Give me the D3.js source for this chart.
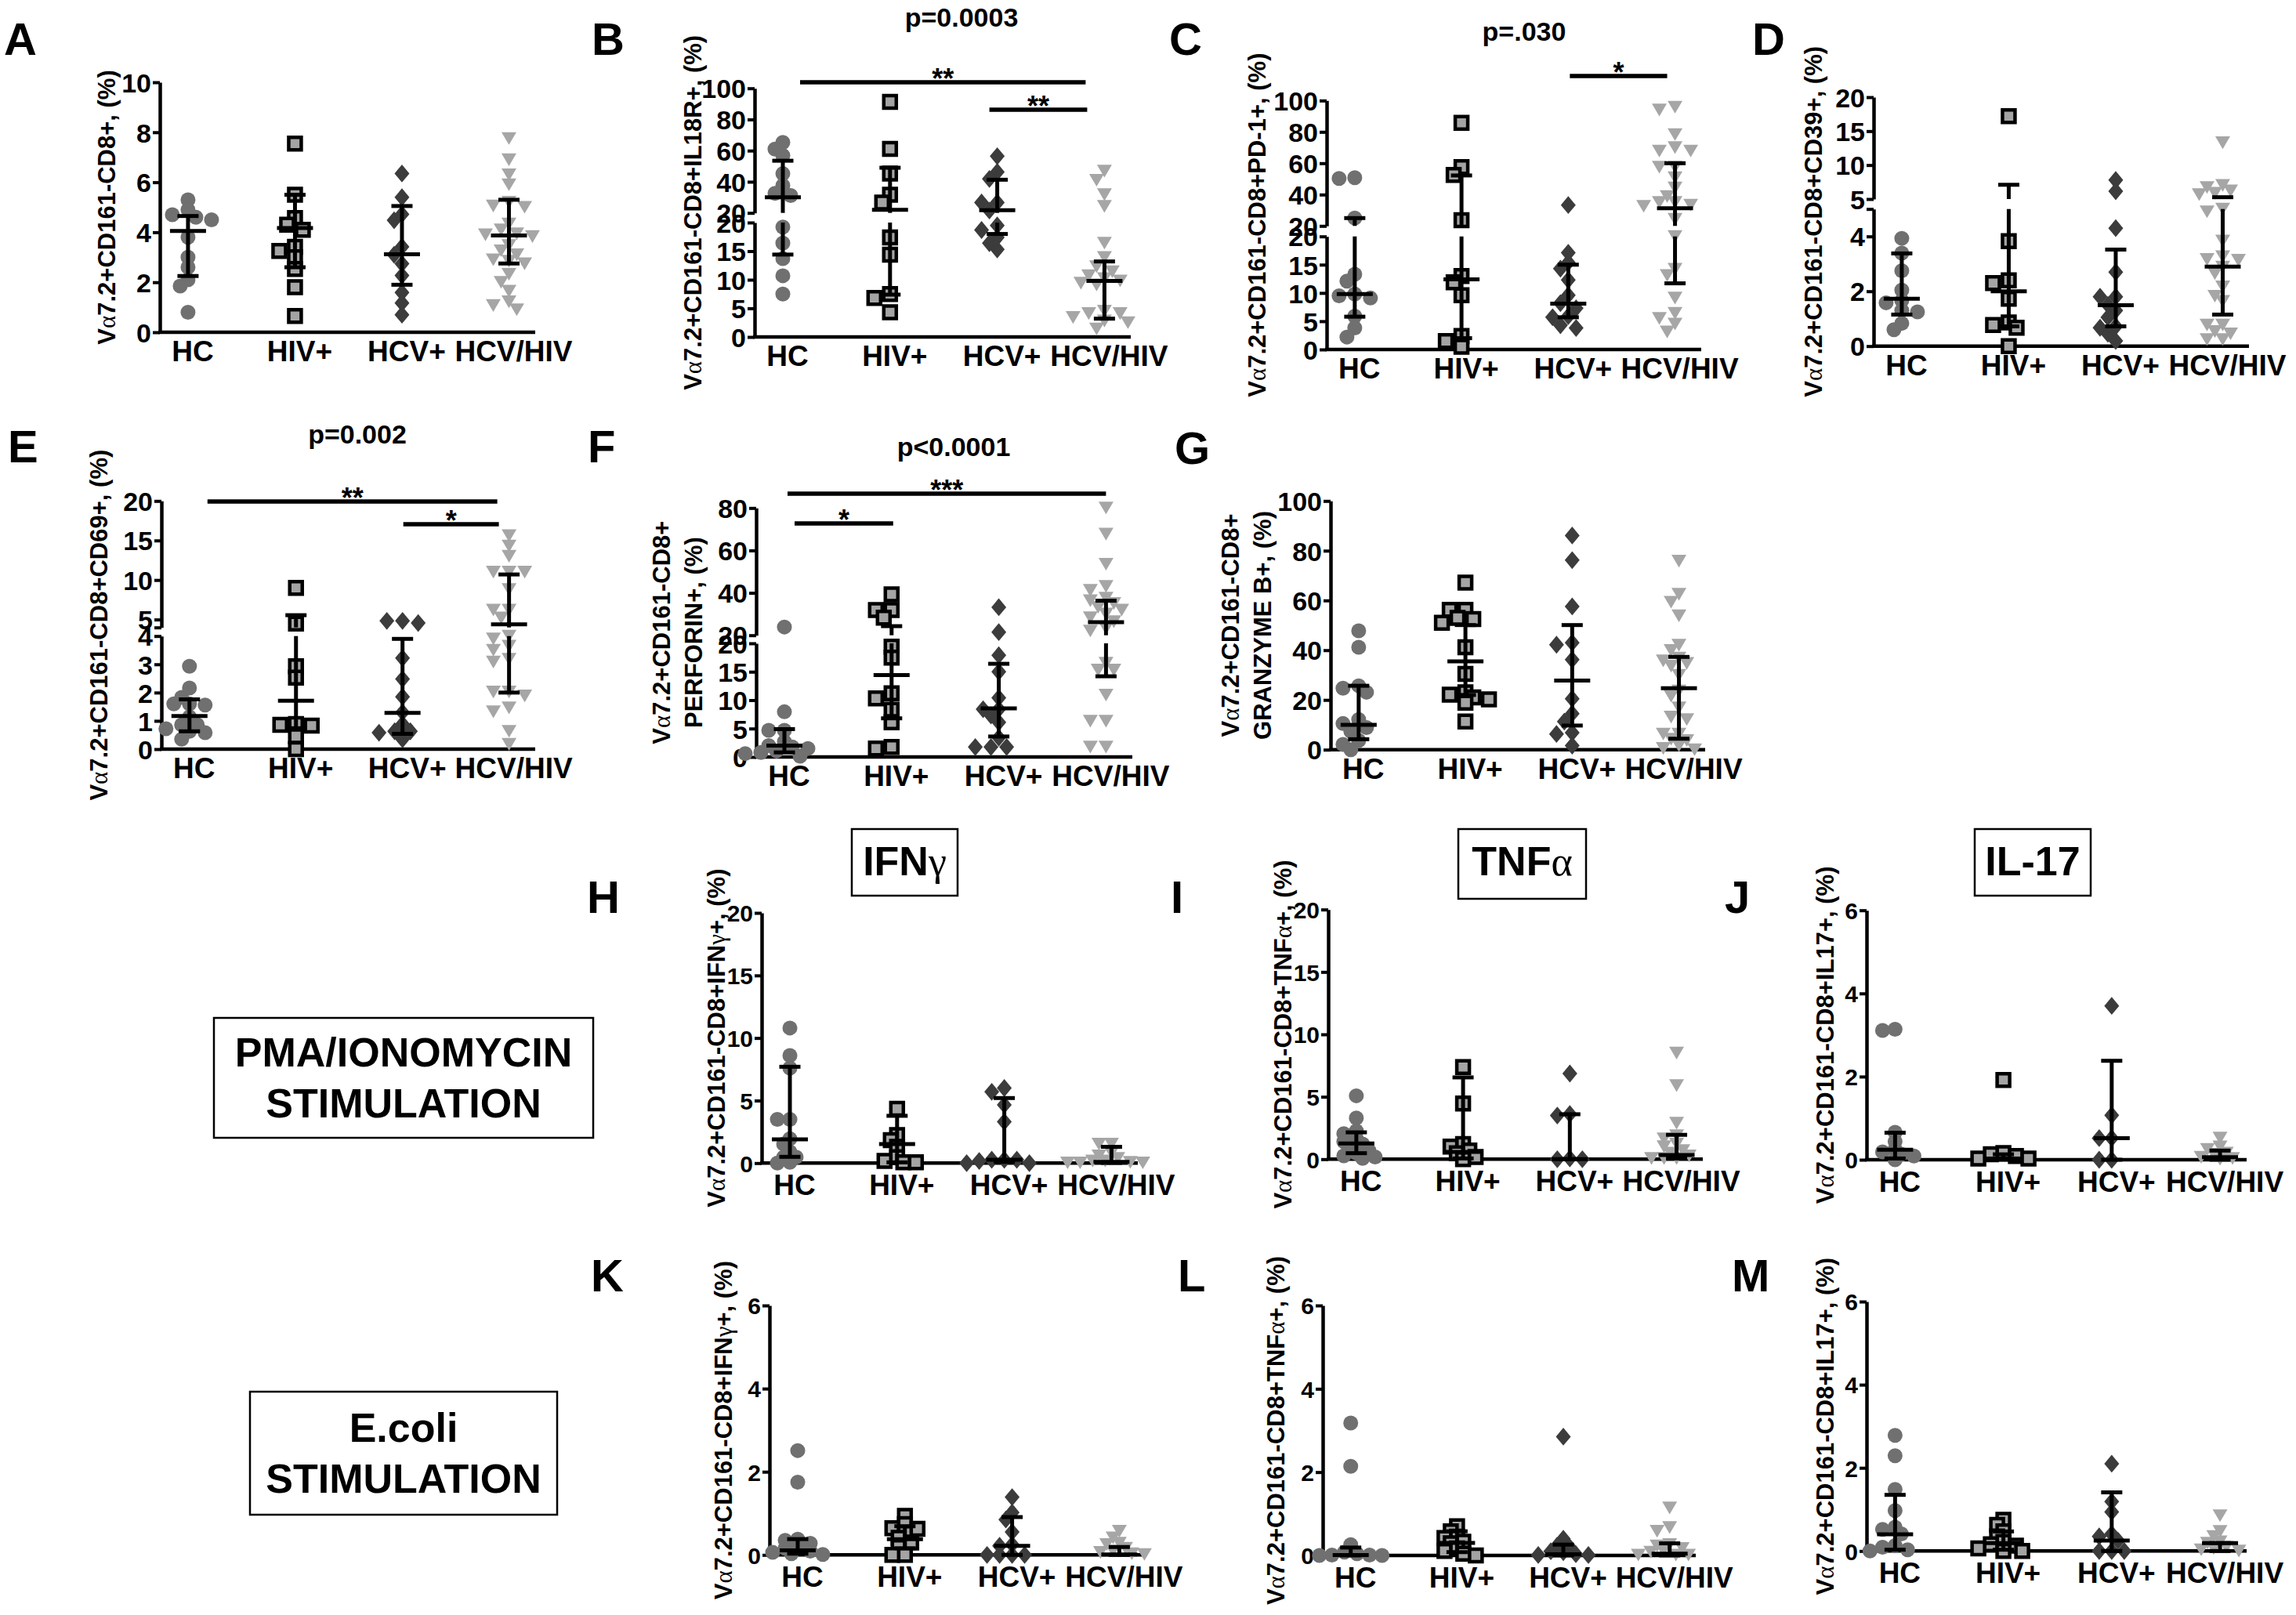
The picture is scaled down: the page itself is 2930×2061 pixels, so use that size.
<!DOCTYPE html>
<html>
<head>
<meta charset="utf-8">
<script src="https://cdn.jsdelivr.net/npm/d3@7"></script>
<style>
  html, body { margin: 0; padding: 0; background: #fff; }
  svg { display: block; }
  text { font-family: "Liberation Sans", Arial, sans-serif; font-weight: bold; fill: #000; }
</style>
</head>
<body>
<svg id="fig" width="2930" height="2061"></svg>
<script>
const groups = ["HC", "HIV+", "HCV+", "HCV/HIV"];

// values, one list per group: HC, HIV+, HCV+, HCV/HIV
// stats are [median, Q1, Q3]
const valsA = [
  [5.3, 4.9, 4.7, 4.6, 4.5, 3.8, 3.0, 2.6, 2.1, 1.85, 0.8],
  [7.55, 5.5, 4.57, 4.3, 4.1, 3.42, 3.25, 3.0, 2.53, 1.8, 0.65],
  [6.35, 5.4, 4.72, 4.48, 3.42, 3.1, 2.74, 2.27, 1.59, 1.17, 0.7],
  [7.75, 6.9, 6.3, 5.9, 5.2, 5.05, 5.0, 4.33, 4.1, 3.94, 3.9, 3.83, 3.47, 3.26, 3.1, 2.9, 2.84, 2.74, 2.32, 2.0, 1.64, 1.22, 1.07, 0.9]
];
const statsA = [[4.05, 2.25, 4.65], [4.17, 2.6, 5.5], [3.12, 1.9, 5.05], [3.87, 2.75, 5.3]];
const domA = [[0, 10]];
const ticksA = [[0, 2, 4, 6, 8, 10]];

const valsB = [
  [65.3, 61, 56.9, 45.2, 37.6, 32.6, 31.2, 19.2, 16.4, 13.7, 10.7, 7.5],
  [91.3, 61.1, 45.2, 31.7, 26.7, 17.4, 14.4, 7.5, 6.8, 4.3],
  [56.4, 46.3, 41.8, 26.7, 26.7, 21.5, 19.5, 18.7, 17.4, 16.4, 15.3],
  [46.8, 41, 31.7, 24.2, 16.4, 13.9, 12.3, 11.4, 10.7, 10.2, 9.8, 9.4, 9.1, 4.5, 4.1, 4.1, 3.4, 2.8, 2.5, 1.4]
];
const statsB = [[30, 14.4, 53.5], [22, 7.4, 49], [21.7, 18, 41.3], [9.8, 3.2, 13.2]];
const domB = [[0, 20], [20, 100]];
const ticksB = [[0, 5, 10, 15, 20], [20, 40, 60, 80, 100]];

const valsC = [
  [50.8, 50.3, 25, 13.3, 12.1, 9.8, 9.5, 9.1, 5.9, 3.8, 2.2],
  [85.8, 57.5, 52.5, 23.7, 13, 11.9, 9.6, 2.4, 1.5, 0.5],
  [33.3, 17.1, 15.4, 14.3, 12.3, 9.6, 8.2, 7.3, 5.9, 5.7, 4.3, 3.8],
  [95.8, 94, 78.3, 70, 67.8, 67.8, 57.5, 57.5, 50.8, 44.2, 38.8, 35, 35, 33.3, 32.5, 24.2, 20, 14.2, 13.1, 9.1, 6.4, 5.5, 4.5, 3.1]
];
const statsC = [[9.8, 5.8, 25], [12.4, 2.0, 52.2], [8.1, 5.7, 15], [31.3, 11.7, 60]];
const domC = [[0, 20], [20, 100]];
const ticksC = [[0, 5, 10, 15, 20], [20, 40, 60, 80, 100]];

const valsD = [
  [3.93, 3.39, 2.75, 2.04, 1.66, 1.58, 1.3, 1.25, 0.83, 0.6],
  [17.2, 3.83, 2.4, 2.3, 1.73, 0.86, 0.77, 0.67, 0],
  [7.8, 6.15, 4.3, 2.7, 1.8, 1.8, 1.5, 1.3, 1.05, 0.72, 0.67, 0.45, 0.19],
  [13.3, 7.0, 6.7, 6.2, 5.85, 5.65, 5.0, 4.9, 3.83, 3.26, 3.16, 3.13, 2.88, 2.64, 2.16, 1.82, 1.63, 0.77, 0.77, 0.53, 0.45, 0.24, 0.24]
];
const statsD = [[1.73, 1.15, 3.38], [2.0, 0.72, 7.1], [1.49, 0.72, 3.52], [2.9, 1.15, 5.27]];
const domD = [[0, 5], [5, 20]];
const ticksD = [[0, 2, 4], [5, 10, 15, 20]];

const valsE = [
  [2.93, 2.16, 1.83, 1.6, 1.6, 1.56, 1.14, 0.86, 0.86, 0.72, 0.63, 0.58, 0.35],
  [9.0, 4.5, 2.93, 2.53, 0.89, 0.86, 0.83, 0.46, 0],
  [4.83, 4.83, 4.56, 3.22, 2.48, 1.85, 1.3, 0.89, 0.63, 0.63, 0.58, 0.35],
  [15.6, 14.3, 13, 11, 11, 11, 8.8, 6.2, 6.2, 5.2, 4.0, 3.9, 3.64, 3.5, 3.18, 3.08, 2.02, 2.02, 1.88, 1.46, 1.32, 0.63, 0.17]
];
const statsE = [[1.17, 0.63, 1.76], [1.71, 0.74, 5.55], [1.28, 0.54, 3.9], [4.4, 2.0, 10.7]];
const domE = [[0, 4], [4, 20]];
const ticksE = [[0, 1, 2, 3, 4], [5, 10, 15, 20]];

const valsF = [
  [23.9, 7.95, 4.7, 4.7, 2.7, 2.0, 1.75, 1.5, 1.05, 0.8, 0.6, 0.15],
  [39.3, 31.9, 31.9, 28.3, 19.4, 17.5, 11.2, 10.3, 8.3, 6.1, 1.75, 1.5],
  [33.2, 21.5, 17.9, 15, 10.4, 8.4, 8.4, 7.3, 6.1, 3.4, 1.75, 1.75, 1.75],
  [80, 67.7, 53.5, 43, 41.2, 37.5, 36.3, 35, 33.2, 31.9, 30, 28.3, 26.4, 23.3, 22, 16.5, 15.3, 15.3, 10.9, 6.3, 6.3, 1.75, 1.75]
];
const statsF = [[2.0, 0.8, 4.9], [14.4, 6.8, 24.3], [8.55, 3.6, 16.4], [26.2, 14.2, 36.3]];
const domF = [[0, 20], [20, 80]];
const ticksF = [[0, 5, 10, 15, 20], [20, 40, 60, 80]];

const valsG = [
  [47.8, 41.2, 25.7, 24.7, 23.1, 12.1, 10.5, 8.9, 7.4, 3.7, 2.1, 0],
  [67.2, 56.2, 56.2, 53, 52.5, 51, 41.2, 30.5, 23.1, 22.1, 21, 20.2, 18.9, 11.3],
  [86.1, 76.2, 57.6, 43, 42.2, 36.2, 20.5, 14.5, 11.3, 6.8, 6.3, 1.6],
  [75.8, 62.5, 59.3, 53.8, 42, 39.9, 36.8, 35.7, 34.7, 33.6, 29.9, 23.6, 21.5, 16.8, 13.1, 12.1, 6.3, 6.3, 4.2, 3.7, 1.6, 0.5, 0]
];
const statsG = [[10, 4.2, 25.7], [35.5, 22, 50.1], [27.8, 9.7, 50.1], [24.7, 4.4, 37.3]];
const domG = [[0, 100]];
const ticksG = [[0, 20, 40, 60, 80, 100]];

const valsH = [
  [10.8, 8.6, 7.6, 3.5, 3.5, 1.94, 1.52, 0.9, 0.48, 0.48, 0.06, 0],
  [4.34, 2.24, 1.84, 1.3, 0.48, 0.17, 0.06, 0.06],
  [6.0, 5.7, 4.66, 3.3, 0.27, 0.27, 0.27, 0.17, 0, 0],
  [1.52, 1.52, 0.8, 0.58, 0.38, 0.17, 0.17, 0.06, 0.02, 0.02, 0.02]
];
const statsH = [[1.9, 0.5, 7.7], [1.52, 0.06, 3.78], [0.27, 0.1, 5.2], [0.1, 0.02, 1.3]];
const domH = [[0, 20]];
const ticksH = [[0, 5, 10, 15, 20]];

const valsI = [
  [5.08, 3.3, 2.26, 2.05, 1.63, 1.42, 1.21, 0.9, 0.69, 0.48, 0.27, 0.17, 0.06],
  [7.38, 4.46, 1.21, 1.0, 0.69, 0.48, 0.17, 0],
  [6.86, 3.62, 3.5, 0.06, 0, 0],
  [8.5, 5.9, 2.88, 1.88, 1.63, 1.21, 1.0, 0.69, 0.48, 0.27, 0.06, 0.06, 0.06]
];
const statsI = [[1.26, 0.48, 2.15], [0.59, 0.06, 6.55], [0, 0, 3.6], [0.33, 0.06, 1.95]];
const domI = [[0, 20]];
const ticksI = [[0, 5, 10, 15, 20]];

const valsJ = [
  [3.14, 3.11, 0.66, 0.44, 0.25, 0.19, 0.13, 0.09, 0],
  [1.92, 0.16, 0.13, 0.09, 0.03, 0.03],
  [3.7, 1.07, 0.52, 0.52, 0, 0],
  [0.52, 0.31, 0.25, 0.16, 0.13, 0.06, 0.03, 0.01]
];
const statsJ = [[0.24, 0.03, 0.65], [0.03, 0, 0.13], [0.52, 0, 2.38], [0.06, 0, 0.22]];
const domJ = [[0, 6]];
const ticksJ = [[0, 2, 4, 6]];

const valsK = [
  [2.51, 1.75, 0.38, 0.35, 0.28, 0.19, 0.16, 0.09, 0.06, 0.03, 0.01],
  [0.94, 0.74, 0.64, 0.63, 0.53, 0.41, 0.3, 0.19, 0, 0],
  [1.39, 1.02, 0.85, 0.55, 0.25, 0.22, 0, 0, 0, 0],
  [0.57, 0.41, 0.28, 0.25, 0.16, 0.09, 0.06, 0.03, 0.01]
];
const statsK = [[0.11, 0.03, 0.38], [0.38, 0.16, 0.69], [0.22, 0, 0.91], [0.01, 0, 0.19]];
const domK = [[0, 6]];
const ticksK = [[0, 2, 4, 6]];

const valsL = [
  [3.18, 2.14, 0.26, 0.08, 0.04, 0.01, 0.01, 0, 0],
  [0.7, 0.58, 0.45, 0.42, 0.33, 0.29, 0.17, 0.11, 0.04, 0],
  [2.85, 0.4, 0.23, 0.2, 0.1, 0.08, 0.03, 0.01, 0.01],
  [1.14, 0.67, 0.58, 0.26, 0.23, 0.17, 0.11, 0.08, 0.01, 0.01, 0.01]
];
const statsL = [[0.01, 0, 0.19], [0.3, 0.08, 0.58], [0.03, 0, 0.26], [0.04, 0, 0.29]];
const domL = [[0, 6]];
const ticksL = [[0, 2, 4, 6]];

const valsM = [
  [2.78, 2.29, 1.48, 0.97, 0.57, 0.52, 0.41, 0.13, 0.09, 0.03, 0],
  [0.75, 0.63, 0.47, 0.35, 0.22, 0.16, 0.13, 0.06, 0, 0],
  [2.1, 1.19, 0.94, 0.41, 0.35, 0.25, 0, 0, 0],
  [0.85, 0.47, 0.35, 0.22, 0.19, 0.09, 0.06, 0.03, 0]
];
const statsM = [[0.4, 0.03, 1.35], [0.19, 0.03, 0.47], [0.25, 0, 1.41], [0.19, 0, 0.19]];
const domM = [[0, 6]];
const ticksM = [[0, 2, 4, 6]];

const yLabels = {
  A: ["Vα7.2+CD161-CD8+, (%)"],
  B: ["Vα7.2+CD161-CD8+IL18R+, (%)"],
  C: ["Vα7.2+CD161-CD8+PD-1+, (%)"],
  D: ["Vα7.2+CD161-CD8+CD39+, (%)"],
  E: ["Vα7.2+CD161-CD8+CD69+, (%)"],
  F: ["Vα7.2+CD161-CD8+", "PERFORIN+, (%)"],
  G: ["Vα7.2+CD161-CD8+", "GRANZYME B+, (%)"],
  H: ["Vα7.2+CD161-CD8+IFNγ+, (%)"],
  I: ["Vα7.2+CD161-CD8+TNFα+, (%)"],
  J: ["Vα7.2+CD161-CD8+IL17+, (%)"],
  K: ["Vα7.2+CD161-CD8+IFNγ+, (%)"],
  L: ["Vα7.2+CD161-CD8+TNFα+, (%)"],
  M: ["Vα7.2+CD161-CD8+IL17+, (%)"]
};

const pTexts = ["p=0.0003", "p=.030", "p=0.002", "p<0.0001"];
const cytokines = ["IFNγ", "TNFα", "IL-17"];
const stimLabels = [["PMA/IONOMYCIN", "STIMULATION"], ["E.coli", "STIMULATION"]];

// ---------- layout (pixels) ----------
const panels = [
  { id: "A", vals: valsA, stats: statsA, dom: domA, ticks: ticksA, x0: 204, x1: 683, ranges: [[424, 105]], labelX: [136], letter: [5, 70] },
  { id: "B", vals: valsB, stats: statsB, dom: domB, ticks: ticksB, x0: 963, x1: 1443, ranges: [[430, 284], [271.7, 112.7]], labelX: [884], letter: [755, 70] },
  { id: "C", vals: valsC, stats: statsC, dom: domC, ticks: ticksC, x0: 1693, x1: 2171, ranges: [[446, 301.7], [288.3, 128.3]], labelX: [1604], letter: [1492, 70] },
  { id: "D", vals: valsD, stats: statsD, dom: domD, ticks: ticksD, x0: 2391, x1: 2870, ranges: [[441.7, 266.7], [254, 124]], labelX: [2314], letter: [2236, 70] },
  { id: "E", vals: valsE, stats: statsE, dom: domE, ticks: ticksE, x0: 206, x1: 683, ranges: [[956, 811.7], [800.7, 639.3]], labelX: [126], letter: [10, 590] },
  { id: "F", vals: valsF, stats: statsF, dom: domF, ticks: ticksF, x0: 965, x1: 1445, ranges: [[966, 821], [810.7, 648.3]], labelX: [844, 885], letter: [750, 590] },
  { id: "G", vals: valsG, stats: statsG, dom: domG, ticks: ticksG, x0: 1698, x1: 2176, ranges: [[956.7, 639.3]], labelX: [1570, 1611], letter: [1499, 592] },
  { id: "H", vals: valsH, stats: statsH, dom: domH, ticks: ticksH, x0: 972, x1: 1452, ranges: [[1484.3, 1165]], labelX: [914], letter: [749, 1165], small: true },
  { id: "I", vals: valsI, stats: statsI, dom: domI, ticks: ticksI, x0: 1695, x1: 2173, ranges: [[1479.3, 1160.7]], labelX: [1637], letter: [1494, 1165], small: true },
  { id: "J", vals: valsJ, stats: statsJ, dom: domJ, ticks: ticksJ, x0: 2382, x1: 2867, ranges: [[1480, 1161.7]], labelX: [2329], letter: [2201, 1165], small: true },
  { id: "K", vals: valsK, stats: statsK, dom: domK, ticks: ticksK, x0: 982, x1: 1462, ranges: [[1984.3, 1666]], labelX: [923], letter: [754, 1648], small: true },
  { id: "L", vals: valsL, stats: statsL, dom: domL, ticks: ticksL, x0: 1688, x1: 2164, ranges: [[1985, 1666]], labelX: [1628], letter: [1503, 1648], small: true },
  { id: "M", vals: valsM, stats: statsM, dom: domM, ticks: ticksM, x0: 2382, x1: 2867, ranges: [[1979.3, 1661]], labelX: [2329], letter: [2210, 1648], small: true }
];

const sigBars = [
  { panel: "B", from: 0, to: 3, dx: [22, -24], y: 105, text: "**" },
  { panel: "B", from: 2, to: 3, dx: [-10, -22], y: 140, text: "**" },
  { panel: "C", from: 2, to: 3, dx: [2, -10], y: 97, text: "*" },
  { panel: "E", from: 0, to: 3, dx: [23, -15], y: 640, text: "**" },
  { panel: "E", from: 2, to: 3, dx: [1, -13], y: 669, text: "*" },
  { panel: "F", from: 0, to: 3, dx: [4, 0], y: 630, text: "***" },
  { panel: "F", from: 0, to: 1, dx: [13, 2], y: 668, text: "*" }
];
const pPos = [{ x: 1227, y: 34 }, { x: 1945, y: 52 }, { x: 456, y: 566 }, { x: 1217, y: 582 }];
const cytoBoxes = [
  { x: 1087, y: 1058, w: 135, h: 85 },
  { x: 1861, y: 1058, w: 163, h: 89 },
  { x: 2520, y: 1058, w: 148, h: 85 }
];
const stimBoxes = [
  { x: 273, y: 1299, w: 484, h: 153, base: [1361, 1426] },
  { x: 319, y: 1776, w: 392, h: 157, base: [1840, 1905] }
];

// ---------- symbols ----------
const symDiamond = {
  draw(ctx, size) {
    const w = Math.sqrt(size) * 0.5, h = w * 1.2;
    ctx.moveTo(0, -h); ctx.lineTo(w, 0); ctx.lineTo(0, h); ctx.lineTo(-w, 0); ctx.closePath();
  }
};
const symTriDown = {
  draw(ctx, size) {
    const w = Math.sqrt(size) * 0.5, h = w * 0.85;
    ctx.moveTo(-w, -h); ctx.lineTo(w, -h); ctx.lineTo(0, h); ctx.closePath();
  }
};
const markers = [
  { type: d3.symbolCircle, size: Math.PI * 9.5 * 9.5, fill: "#707070", stroke: "none", sw: 0 },
  { type: d3.symbolSquare, size: 16 * 16, fill: "#a4a4a4", stroke: "#000", sw: 4.5 },
  { type: symDiamond, size: 19 * 19, fill: "#3c3c3c", stroke: "none", sw: 0 },
  { type: symTriDown, size: 19 * 19, fill: "#a6a6a6", stroke: "none", sw: 0 }
];

const svg = d3.select("#fig");
svg.append("rect").attr("width", 2930).attr("height", 2061).attr("fill", "#fff");

function richText(sel, str) {
  str.split(/([αγ])/).forEach(s => {
    if (!s) return;
    const t = sel.append("tspan").text(s);
    if (s === "α" || s === "γ") {
      t.attr("font-family", "'Liberation Serif', 'DejaVu Serif', serif").attr("font-weight", "normal");
    }
  });
}

// simple column scatter like the prism dot plots
function swarm(vals, cx, y, step, minD) {
  const placed = [];
  vals.slice().sort((a, b) => b - a).forEach(v => {
    const py = y(v);
    let done = false;
    for (let k = 0; k < 24 && !done; k++) {
      const off = k === 0 ? 0 : (k % 2 ? -Math.ceil(k / 2) : Math.ceil(k / 2)) * step;
      const px = cx + off;
      if (placed.every(p => Math.hypot(p.x - px, p.y - py) >= minD)) {
        placed.push({ v, x: px, y: py });
        done = true;
      }
    }
    if (!done) placed.push({ v, x: cx, y: py });
  });
  return placed;
}

function drawPanel(p) {
  const g = svg.append("g").attr("class", "panel-" + p.id);
  const segs = p.dom.map((d, i) => ({
    d,
    ticks: p.ticks[i],
    scale: d3.scaleLinear().domain(d).range(p.ranges[i])
  }));
  const y = v => {
    for (const s of segs) if (v <= s.d[1]) return s.scale(v);
    return segs[segs.length - 1].scale(v);
  };
  const L = p.x1 - p.x0;
  const x = d3.scalePoint().domain(groups).range([p.x0 + 0.075 * L, p.x0 + 0.93 * L]);
  const tickFont = p.small ? 30 : 34;

  // y axis, one piece per segment
  segs.forEach(s => {
    const vals = Array.from(new Set([s.d[0], s.d[1], ...s.ticks]));
    const ax = d3.axisLeft(s.scale)
      .tickValues(vals)
      .tickSize(9)
      .tickSizeOuter(0)
      .tickPadding(2)
      .tickFormat(v => s.ticks.includes(v) ? v : "");
    const ag = g.append("g").attr("transform", `translate(${p.x0},0)`).call(ax);
    ag.attr("font-size", null).attr("font-family", null);
    ag.select(".domain").attr("stroke", "#000").attr("stroke-width", 4.5);
    ag.selectAll(".tick line").attr("stroke", "#000").attr("stroke-width", 4);
    ag.selectAll(".tick text").attr("font-size", tickFont).attr("dy", "0.36em");
  });

  // x axis
  const y0 = y(0);
  g.append("line")
    .attr("x1", p.x0 - 2).attr("x2", p.x1)
    .attr("y1", y0).attr("y2", y0)
    .attr("stroke", "#000").attr("stroke-width", 4.5);

  g.selectAll(".xlab").data(groups).enter().append("text")
    .attr("class", "xlab")
    .attr("x", d => x(d) + 6)
    .attr("y", y0 + (p.small ? 41 : 37))
    .attr("text-anchor", "middle")
    .attr("font-size", 37)
    .text(d => d);

  // points
  p.vals.forEach((vals, gi) => {
    const m = markers[gi];
    const pts = p.small ? swarm(vals, x(groups[gi]), y, 8, 10) : swarm(vals, x(groups[gi]), y, 10, 12);
    g.append("g").selectAll("path").data(pts).enter().append("path")
      .attr("d", d3.symbol().type(m.type).size(m.size))
      .attr("transform", d => `translate(${d.x},${d.y})`)
      .attr("fill", m.fill)
      .attr("stroke", m.stroke)
      .attr("stroke-width", m.sw);
  });

  // median + interquartile range
  p.stats.forEach((st, gi) => {
    const cx = x(groups[gi]);
    const [med, q1, q3] = st;
    const eg = g.append("g").attr("stroke", "#000").attr("stroke-width", 5);
    segs.forEach(s => {
      const lo = Math.max(q1, s.d[0]), hi = Math.min(q3, s.d[1]);
      if (hi > lo) {
        eg.append("line").attr("x1", cx).attr("x2", cx)
          .attr("y1", s.scale(lo)).attr("y2", s.scale(hi));
      }
    });
    [q1, q3].forEach(q => {
      eg.append("line").attr("x1", cx - 13.5).attr("x2", cx + 13.5)
        .attr("y1", y(q)).attr("y2", y(q));
    });
    eg.append("line").attr("x1", cx - 23).attr("x2", cx + 23)
      .attr("y1", y(med)).attr("y2", y(med));
  });

  // y label
  const top = d3.min(p.ranges, r => d3.min(r));
  const bottom = d3.max(p.ranges, r => d3.max(r));
  const midY = (top + bottom) / 2;
  yLabels[p.id].forEach((str, i) => {
    const t = g.append("text")
      .attr("transform", `translate(${p.labelX[i] + 11},${midY}) rotate(-90)`)
      .attr("text-anchor", "middle")
      .attr("font-size", 31);
    richText(t, str);
  });

  // panel letter
  g.append("text")
    .attr("x", p.letter[0]).attr("y", p.letter[1])
    .attr("font-size", 58)
    .text(p.id);

  p.x = x;
}

panels.forEach(drawPanel);

// significance bars
sigBars.forEach(b => {
  const p = panels.find(q => q.id === b.panel);
  const xa = p.x(groups[b.from]) + b.dx[0];
  const xb = p.x(groups[b.to]) + b.dx[1];
  svg.append("line")
    .attr("x1", xa).attr("x2", xb).attr("y1", b.y).attr("y2", b.y)
    .attr("stroke", "#000").attr("stroke-width", 5.5);
  svg.append("text")
    .attr("x", (xa + xb) / 2).attr("y", b.y + 8)
    .attr("text-anchor", "middle")
    .attr("font-size", 36)
    .text(b.text);
});

// overall p values
pTexts.forEach((t, i) => {
  svg.append("text")
    .attr("x", pPos[i].x).attr("y", pPos[i].y)
    .attr("text-anchor", "middle")
    .attr("font-size", 34)
    .text(t);
});

// cytokine headers
cytokines.forEach((c, i) => {
  const b = cytoBoxes[i];
  svg.append("rect")
    .attr("x", b.x).attr("y", b.y).attr("width", b.w).attr("height", b.h)
    .attr("fill", "none").attr("stroke", "#000").attr("stroke-width", 2.5);
  const t = svg.append("text")
    .attr("x", b.x + b.w / 2).attr("y", 1117)
    .attr("text-anchor", "middle")
    .attr("font-size", 52);
  richText(t, c);
});

// stimulation boxes
stimLabels.forEach((lines, i) => {
  const b = stimBoxes[i];
  svg.append("rect")
    .attr("x", b.x).attr("y", b.y).attr("width", b.w).attr("height", b.h)
    .attr("fill", "none").attr("stroke", "#000").attr("stroke-width", 2.5);
  lines.forEach((l, j) => {
    svg.append("text")
      .attr("x", b.x + b.w / 2).attr("y", b.base[j])
      .attr("text-anchor", "middle")
      .attr("font-size", 52)
      .text(l);
  });
});
</script>
</body>
</html>
